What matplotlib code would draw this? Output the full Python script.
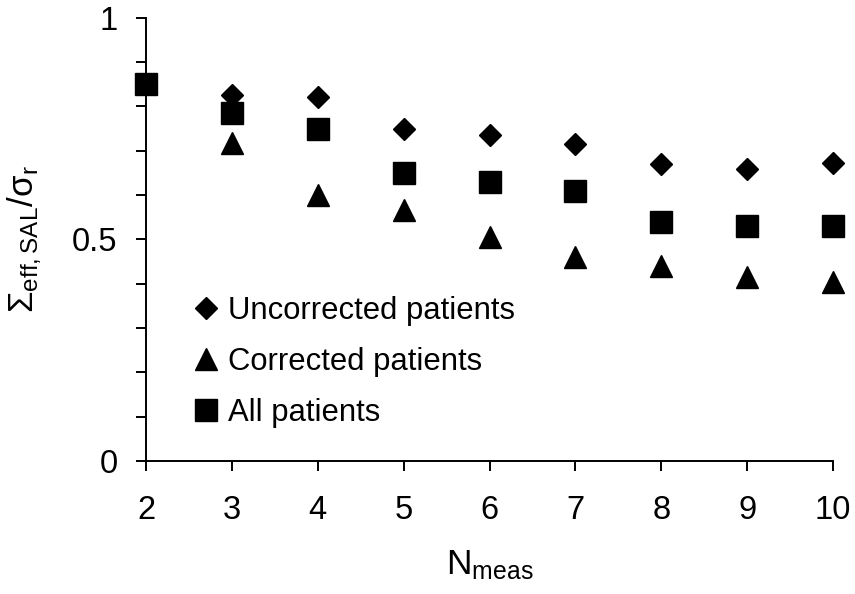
import numpy as np
import matplotlib.pyplot as plt
from matplotlib.ticker import MultipleLocator

plt.rcParams['font.family'] = ['Liberation Sans', 'DejaVu Sans']
plt.rcParams['mathtext.fontset'] = 'custom'
plt.rcParams['mathtext.rm'] = 'Liberation Sans'
plt.rcParams['mathtext.it'] = 'Liberation Sans:italic'

# number of measurements per patient
n_meas = [2, 3, 4, 5, 6, 7, 8, 9, 10]

# Sigma_eff,SAL / sigma_r for each patient group
uncorrected = [np.nan, 0.825, 0.820, 0.749, 0.734, 0.715, 0.670, 0.659, 0.673]
corrected = [np.nan, 0.718, 0.599, 0.565, 0.504, 0.459, 0.439, 0.414, 0.403]
all_patients = [0.849, 0.784, 0.749, 0.650, 0.629, 0.609, 0.540, 0.530, 0.530]

fig = plt.figure(figsize=(8.55, 5.94), dpi=100)
ax = fig.add_axes([0.1708, 0.2239, 0.8035, 0.7466])

ax.plot(n_meas, uncorrected, 'D', color='black', ms=11.5, clip_on=False,
        label='Uncorrected patients')
ax.plot(n_meas, corrected, '^', color='black', ms=15.5, clip_on=False,
        label='Corrected patients')
ax.plot(n_meas, all_patients, 's', color='black', ms=15.5, clip_on=False,
        label='All patients')

ax.set_xlim(2, 10)
ax.set_ylim(0, 1)
ax.xaxis.set_major_locator(MultipleLocator(1))
ax.yaxis.set_minor_locator(MultipleLocator(0.1))
ax.set_yticks([0, 0.5, 1])
ax.set_yticklabels(['0', '0.5', '1'])

for side in ['top', 'right']:
    ax.spines[side].set_visible(False)
for side in ['left', 'bottom']:
    ax.spines[side].set_linewidth(1.4)

ax.tick_params(axis='y', which='both', direction='out', length=7.5, width=1.4,
               labelsize=23.5, pad=13)
ax.tick_params(axis='x', direction='out', length=7.5, width=1.4,
               labelsize=23.5, pad=17)

ax.set_xlabel(r'N$_{\mathrm{meas}}$', fontsize=25.5, labelpad=16)
ax.set_ylabel(r'$\mathrm{Σ}_{\mathrm{eff,SAL}}/\mathrm{σ}_{\mathrm{r}}$',
              fontsize=25, labelpad=20)

ax.legend(loc='upper left', bbox_to_anchor=(0.051, 0.40), frameon=False,
          fontsize=22.3, handlelength=0.8, handletextpad=0.3,
          labelspacing=0.68, borderaxespad=0)

fig.savefig('out.png', dpi=100)
